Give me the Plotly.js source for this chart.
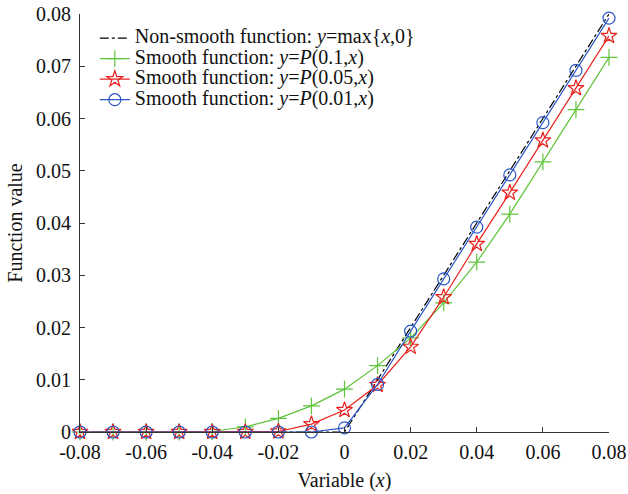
<!DOCTYPE html>
<html><head><meta charset="utf-8">
<script src="https://cdn.plot.ly/plotly-3.0.1.min.js"></script>
<style>body{margin:0;background:#fff}#chart{width:628px;height:494px}</style>
</head><body><div id="chart"></div>
<script>
const xVals = [-0.08,-0.07,-0.06,-0.05,-0.04,-0.03,-0.02,-0.01,0,0.01,0.02,0.03,0.04,0.05,0.06,0.07,0.08];
const nonSmooth = [0,0,0,0,0,0,0,0,0,0.01,0.02,0.03,0.04,0.05,0.06,0.07,0.08];
const smooth01 = [0,0,0,0,0.0001,0.001,0.0026,0.005,0.0082,0.0127,0.018,0.0247,0.0325,0.0417,0.0517,0.0617,0.0717];
const smooth005 = [0,0,0,0,0,0,0.0001,0.0015,0.0042,0.009,0.0163,0.0258,0.036,0.0458,0.0558,0.0658,0.0758];
const smooth001 = [0,0,0,0,0,0,0,0,0.0008,0.0091,0.0193,0.0293,0.0392,0.0492,0.0592,0.0692,0.0792];
const xTickVals = [-0.08,-0.06,-0.04,-0.02,0,0.02,0.04,0.06,0.08];
const xTickText = ['-0.08','-0.06','-0.04','-0.02','0','0.02','0.04','0.06','0.08'];
const yTickVals = [0,0.01,0.02,0.03,0.04,0.05,0.06,0.07,0.08];
const yTickText = ['0','0.01','0.02','0.03','0.04','0.05','0.06','0.07','0.08'];
const names = [
  'Non-smooth function: <i>y</i>=max{<i>x</i>,0}',
  'Smooth function: <i>y</i>=<i>P</i>(0.1,<i>x</i>)',
  'Smooth function: <i>y</i>=<i>P</i>(0.05,<i>x</i>)',
  'Smooth function: <i>y</i>=<i>P</i>(0.01,<i>x</i>)'
];
const big = s => '<span style="font-size:20px">' + s + '</span>';
const traces = [
  {x:xVals, y:nonSmooth, name:big(names[0]), mode:'lines', cliponaxis:false, line:{color:'#000', width:1.2, dash:'dashdot'}},
  {x:xVals, y:smooth01, name:big(names[1]), mode:'lines+markers', cliponaxis:false, line:{color:'#5ec43a', width:1.2},
   marker:{symbol:'cross-thin-open', size:12, line:{color:'#5ec43a', width:1.2}}},
  {x:xVals, y:smooth005, name:big(names[2]), mode:'lines+markers', cliponaxis:false, line:{color:'#e8231f', width:1.2},
   marker:{symbol:'star-open', size:12, color:'#e8231f', line:{color:'#e8231f', width:1.2}}},
  {x:xVals, y:smooth001, name:big(names[3]), mode:'lines+markers', cliponaxis:false, line:{color:'#2a56c6', width:1.2},
   marker:{symbol:'circle-open', size:12, color:'#2a56c6', line:{color:'#2a56c6', width:1.2}}}
];
const fam = '"Liberation Serif", "Times New Roman", serif';
const font = {family:fam, size:20, color:'#111'};
const layout = {
  width:628, height:494,
  margin:{l:80, r:19, t:14, b:62},
  paper_bgcolor:'#fff', plot_bgcolor:'#fff',
  font: font,
  showlegend:true,
  legend:{x:0.028, y:0.979, xanchor:'left', yanchor:'top', bgcolor:'rgba(0,0,0,0)',
    font:{family:fam, size:13.5, color:'#111'}, tracegroupgap:0, itemwidth:30},
  xaxis:{range:[-0.08,0.08], tickvals:xTickVals, ticktext:xTickText, ticks:'inside', ticklen:5, tickcolor:'#333',
    ticklabelstandoff:2,
    showline:true, linecolor:'#333', linewidth:1, showgrid:false, zeroline:false, mirror:false,
    title:{text:'Variable (<i>x</i>)', font:font, standoff:10}},
  yaxis:{range:[0,0.08], tickvals:yTickVals, ticktext:yTickText, ticks:'inside', ticklen:5, tickcolor:'#333',
    ticklabelstandoff:4,
    showline:true, linecolor:'#333', linewidth:1, showgrid:false, zeroline:false, mirror:false,
    title:{text:'Function value', font:font, standoff:8}}
};
Plotly.newPlot('chart', traces, layout, {displayModeBar:false, staticPlot:true});
</script></body></html>
